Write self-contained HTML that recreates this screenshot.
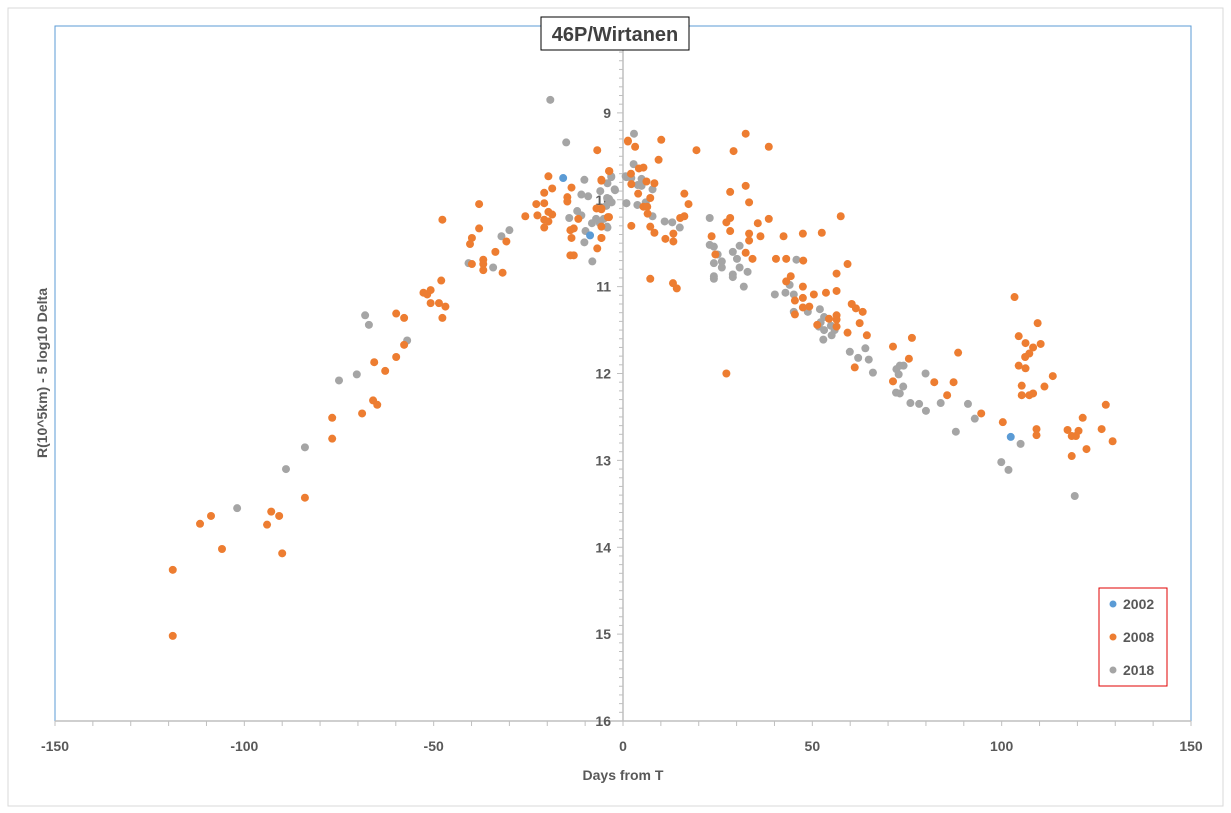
<!DOCTYPE html>
<html><head><meta charset="utf-8"><style>
body{margin:0;background:#fff;}
svg{display:block;font-family:"Liberation Sans",sans-serif;}
</style></head><body>
<svg id="chart" width="1231" height="813" viewBox="0 0 1231 813">
<rect x="8" y="8" width="1215" height="798" fill="#fff" stroke="#d9d9d9"/>
<g id="plot"></g>
</svg>
<script>
const xTicks=[-150,-100,-50,0,50,100,150];
const yTicks=[9,10,11,12,13,14,15,16];
const legendLabels=['2002','2008','2018'];
const s2002x=[-15.8,-8.7,102.4];
const s2002y=[9.75,10.41,12.73];
const s2008x=[-118.9,-118.9,-111.7,-108.8,-105.9,-94.0,-92.9,-90.8,-90.0,-84.0,-76.8,-76.8,-68.9,-66.0,-64.9,-65.7,-62.8,-59.9,-57.8,-59.9,-57.8,-52.7,-51.7,-50.8,-48.0,-50.8,-48.6,-46.9,-47.7,-47.7,-40.4,-39.9,-38.0,-38.0,-39.9,-36.9,-36.9,-36.9,-33.7,-30.8,-31.8,-25.8,-22.9,-22.6,-20.8,-20.8,-20.8,-20.8,-19.7,-19.7,-18.7,-18.7,-19.7,-14.7,-14.7,-13.6,-13.9,-13.0,-13.6,-13.9,-13.0,-11.8,-6.8,-6.8,-7.0,-5.7,-5.7,-5.7,-5.7,-3.7,-3.7,1.3,
1.3,3.2,10.1,9.4,-3.6,-5.7,2.1,4.2,5.4,2.2,6.2,8.3,4.0,7.2,5.4,6.4,6.5,-4.0,-5.7,-5.7,2.2,7.2,8.3,11.2,13.3,13.3,15.1,16.2,16.2,17.3,19.4,7.2,13.2,14.2,23.4,24.4,28.3,29.2,32.4,38.5,32.4,33.3,27.3,28.3,28.3,33.3,33.3,35.6,36.3,38.5,32.4,34.2,27.3,40.4,42.4,43.1,47.6,47.5,52.5,57.5,59.3,44.3,43.1,56.4,47.5,50.4,53.6,56.4,47.5,45.4,47.5,49.2,45.4,60.4,61.5,63.3,56.4,56.4,56.4,54.4,51.3,62.5,59.3,64.4,61.2,71.3,76.3,75.5,71.3,82.2,87.3,88.5,85.6,
103.4,109.5,104.5,106.3,110.3,108.3,107.3,106.2,104.5,106.3,113.5,111.3,105.3,105.3,107.3,108.3,127.5,94.6,100.3,109.2,109.2,117.4,121.4,120.3,118.5,119.6,126.4,129.3,122.4,118.5];
const s2008y=[14.26,15.02,13.73,13.64,14.02,13.74,13.59,13.64,14.07,13.43,12.51,12.75,12.46,12.31,12.36,11.87,11.97,11.81,11.67,11.31,11.36,11.07,11.09,11.04,10.93,11.19,11.19,11.23,11.36,10.23,10.51,10.44,10.33,10.05,10.74,10.69,10.74,10.81,10.60,10.48,10.84,10.19,10.05,10.18,9.92,10.04,10.23,10.32,9.73,10.14,9.87,10.17,10.25,9.97,10.02,9.86,10.35,10.33,10.44,10.64,10.64,10.22,9.43,10.56,10.10,10.10,9.78,10.44,10.31,9.67,10.20,9.32,
9.33,9.39,9.31,9.54,9.67,9.77,9.70,9.64,9.63,9.82,9.79,9.81,9.93,9.98,10.08,10.08,10.16,10.20,10.11,10.44,10.30,10.31,10.38,10.45,10.39,10.48,10.21,10.19,9.93,10.05,9.43,10.91,10.96,11.02,10.42,10.63,9.91,9.44,9.24,9.39,9.84,10.03,10.26,10.21,10.36,10.39,10.47,10.27,10.42,10.22,10.61,10.68,12.00,10.68,10.42,10.68,10.70,10.39,10.38,10.19,10.74,10.88,10.94,10.85,11.00,11.09,11.07,11.05,11.13,11.16,11.24,11.23,11.32,11.20,11.25,11.29,11.33,11.38,11.46,11.37,11.44,11.42,11.53,11.56,11.93,11.69,11.59,11.83,12.09,12.10,12.10,11.76,12.25,
11.12,11.42,11.57,11.65,11.66,11.70,11.77,11.81,11.91,11.94,12.03,12.15,12.14,12.25,12.25,12.23,12.36,12.46,12.56,12.64,12.71,12.65,12.51,12.66,12.72,12.72,12.64,12.78,12.87,12.95];
const s2018x=[-19.2,-15.0,-10.2,-4.1,-3.1,-2.1,-6.0,-11.0,-9.2,-3.7,-4.4,-3.0,-12.1,-11.0,-14.2,-7.1,-5.1,-8.2,-6.1,-4.1,-9.9,-10.2,-8.1,-30.0,-32.1,-40.8,-34.3,-68.1,-67.1,-57.0,-70.3,-75.0,-84.0,-89.0,-101.9,0.9,0.9,
2.9,2.8,0.7,2.2,-3.1,4.9,3.9,4.9,7.8,-2.2,-4.2,-3.3,0.9,3.8,6.0,7.8,11.0,13.0,15.0,-4.2,22.9,22.9,24.0,25.0,24.0,26.1,26.1,24.0,24.0,29.0,30.1,30.8,30.8,29.0,29.0,32.9,31.9,40.1,42.9,44.0,45.1,45.8,45.1,48.8,52.0,53.1,52.2,51.7,53.1,54.9,55.9,55.1,52.9,59.9,62.1,64.0,64.9,66.0,72.2,73.1,74.1,72.8,74.0,72.1,73.1,75.9,78.2,80.0,79.9,83.9,91.1,92.9,87.9,99.9,101.8,105.0,119.3];
const s2018y=[8.85,9.34,9.77,9.81,9.74,9.89,9.90,9.94,9.96,9.99,10.07,10.03,10.13,10.18,10.21,10.22,10.22,10.27,10.27,10.32,10.36,10.49,10.71,10.35,10.42,10.73,10.78,11.33,11.44,11.62,12.01,12.08,12.85,13.10,13.55,9.74,10.04,
9.24,9.59,9.73,9.75,9.73,9.76,9.83,9.84,9.88,9.88,9.98,10.02,10.04,10.06,10.03,10.19,10.25,10.26,10.32,10.31,10.21,10.52,10.54,10.63,10.73,10.71,10.78,10.88,10.91,10.60,10.68,10.53,10.78,10.86,10.89,10.83,11.00,11.09,11.07,10.98,11.09,10.69,11.29,11.29,11.26,11.35,11.41,11.46,11.50,11.45,11.50,11.56,11.61,11.75,11.82,11.71,11.84,11.99,11.95,11.91,11.91,12.01,12.15,12.22,12.23,12.34,12.35,12.43,12.00,12.34,12.35,12.52,12.67,13.02,13.11,12.81,13.41];

const NS='http://www.w3.org/2000/svg';
const L=55,R=1191,T=26,B=721;
const xS=v=>L+(v+150)/300*(R-L);
const yS=v=>T+(v-8)/8*(B-T);
const g=document.getElementById('plot');
function mk(tag,attrs,parent){const e=document.createElementNS(NS,tag);for(const k in attrs)e.setAttribute(k,attrs[k]);(parent||g).appendChild(e);return e;}

let e;
e=mk('rect',{x:L,y:T,width:R-L,height:B-T,fill:'none',stroke:'#5b9bd5','stroke-width':1});


// x axis
e=mk('line',{x1:L,y1:B,x2:R,y2:B,stroke:'#bfbfbf','stroke-width':1.5});


for(let v=-150;v<=150;v+=10){
  e=mk('line',{x1:xS(v),y1:B,x2:xS(v),y2:B+5,stroke:'#bfbfbf'});
  
  
}
xTicks.forEach(v=>{
  e=mk('text',{x:xS(v),y:B+30,'text-anchor':'middle','font-size':'14','font-weight':'bold',fill:'#595959'});
  e.textContent=v;
  
  
});
// y axis at x=0
const x0=xS(0);
e=mk('line',{x1:x0,y1:T,x2:x0,y2:B,stroke:'#bfbfbf','stroke-width':1.5});


for(let i=0;i<=80;i++){
  const v=8+i*0.1;const maj=(i%10===0);
  e=mk('line',{x1:x0-(maj?6:4),y1:yS(v),x2:x0,y2:yS(v),stroke:'#bfbfbf'});
  
  
}
yTicks.forEach(v=>{
  e=mk('text',{x:x0-12,y:yS(v)+5,'text-anchor':'end','font-size':'14','font-weight':'bold',fill:'#595959'});
  e.textContent=v;
  
  
});
// points
function series(xs,ys,color,name){
  const sg=mk('g',{});
  
  
  xs.forEach((x,i)=>{
    const c=mk('circle',{cx:xS(x),cy:yS(ys[i]),r:4,fill:color},sg);
    
    
  });
}
series(s2018x,s2018y,'#a5a5a5','2018');
series(s2008x,s2008y,'#ed7d31','2008');
series(s2002x,s2002y,'#5b9bd5','2002');
// title
e=mk('rect',{x:541,y:17,width:148,height:33,fill:'#fff',stroke:'#000','stroke-width':1});


e=mk('text',{x:615,y:41,'text-anchor':'middle','font-size':'20','font-weight':'bold',fill:'#404040'});
e.textContent='46P/Wirtanen';


// axis titles
e=mk('text',{x:623,y:780,'text-anchor':'middle','font-size':'14','font-weight':'bold',fill:'#595959'});
e.textContent='Days from T';


e=mk('text',{x:0,y:0,'text-anchor':'middle','font-size':'14','font-weight':'bold',fill:'#595959',transform:'translate(47,373) rotate(-90)'});
e.textContent='R(10^5km) - 5 log10 Delta';


// legend
e=mk('rect',{x:1099,y:588,width:68,height:98,fill:'#fff',stroke:'#e00000','stroke-width':1});


const lc=['#5b9bd5','#ed7d31','#a5a5a5'];
legendLabels.forEach((t,i)=>{
  const ly=604+i*33;
  e=mk('circle',{cx:1113,cy:ly,r:3.5,fill:lc[i]});
  
  
  e=mk('text',{x:1123,y:ly+5,'font-size':'14','font-weight':'bold',fill:'#595959'});
  e.textContent=t;
  
  
});
</script>
</body></html>
